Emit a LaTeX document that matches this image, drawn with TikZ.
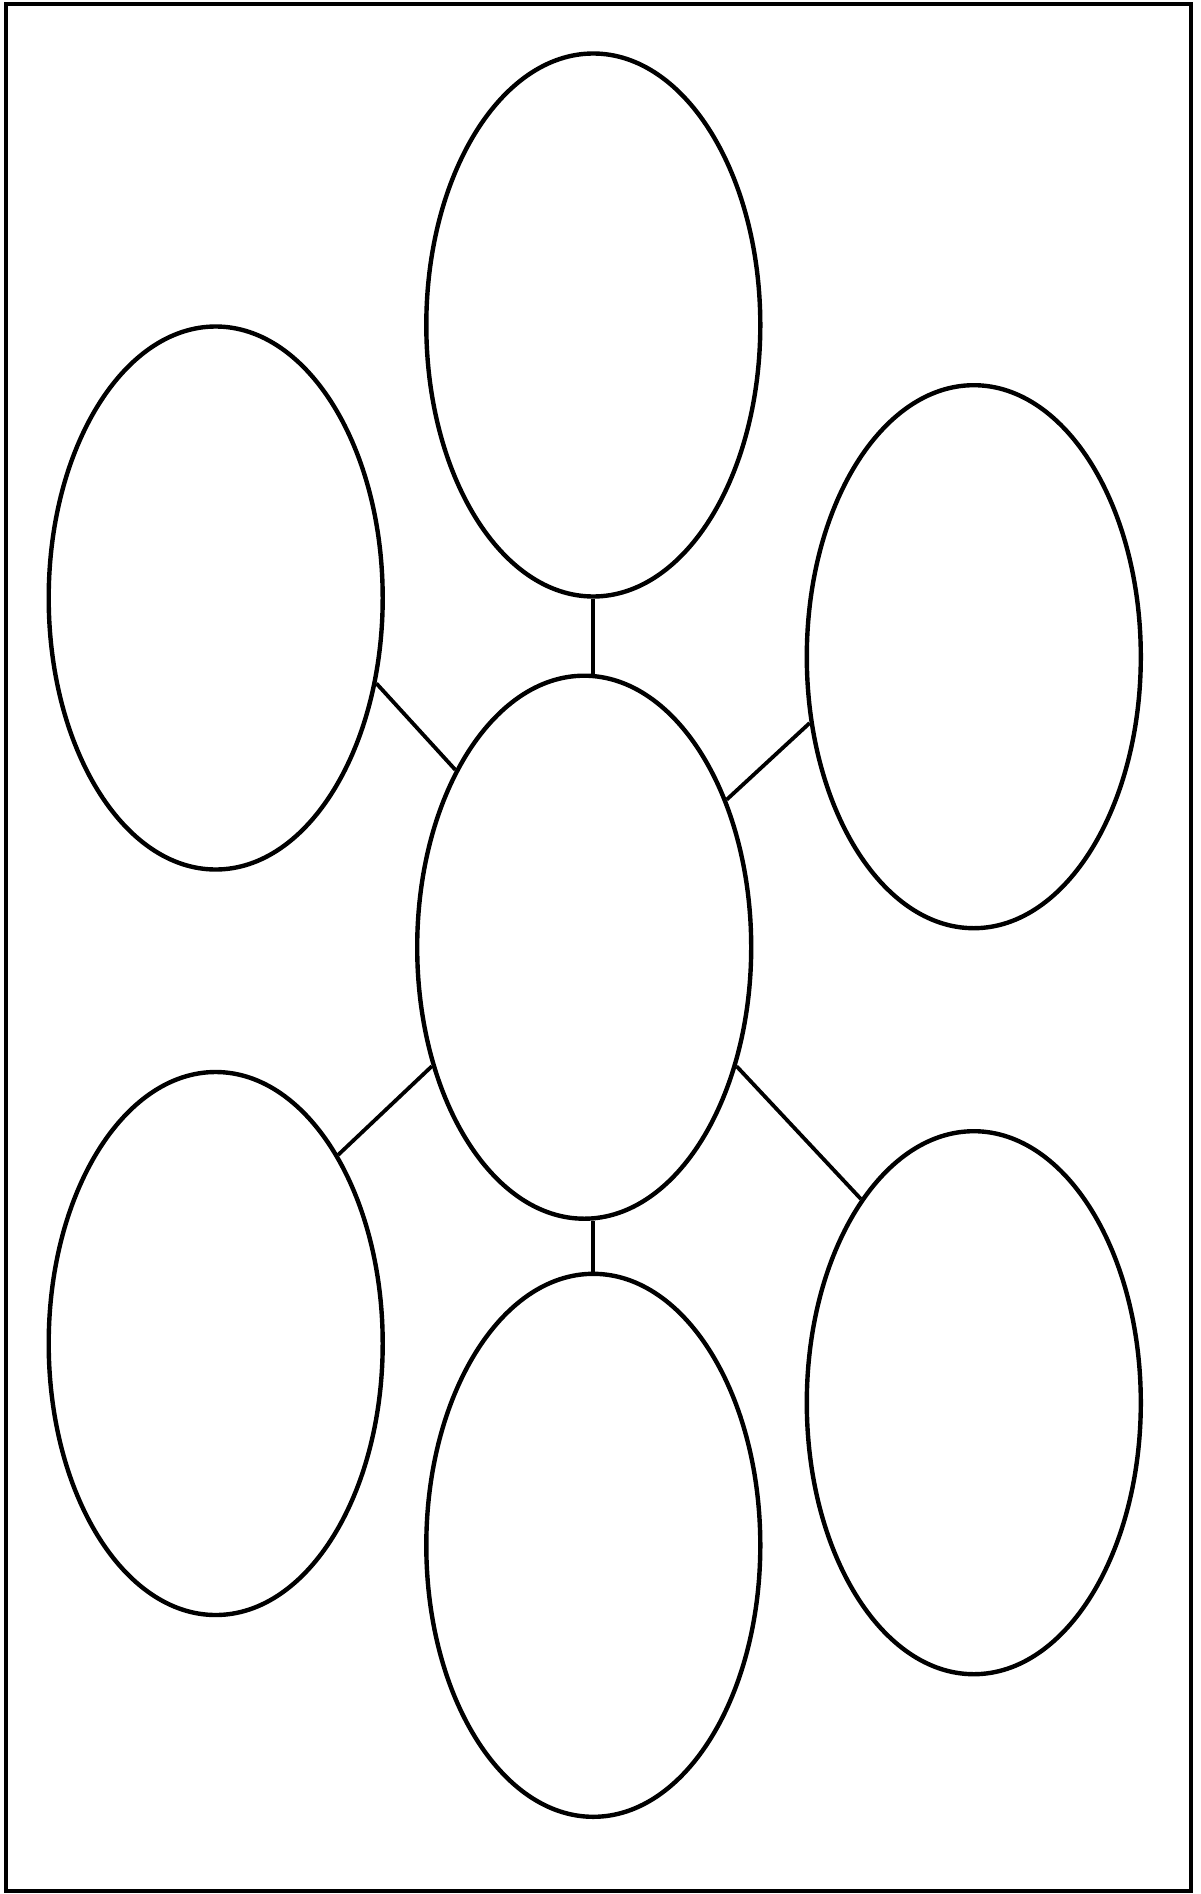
\documentclass[tikz,border=0pt]{standalone}
\usetikzlibrary{shapes.geometric}
\begin{document}
\begin{tikzpicture}[x=1pt,y=-1pt,
  bubble/.style={draw=black, ellipse, line width=4.4pt, minimum width=334pt, minimum height=543pt, inner sep=0pt},
  link/.style={draw=black, line width=3.8pt}]
\useasboundingbox (0,0) rectangle (1201,1894);
\draw[line width=4.6pt] (6,4) rectangle (1191,1891);
\node[bubble] (top) at (593.3,325) {};
\node[bubble] (c)   at (584.2,947.2) {};
\node[bubble] (ul)  at (215.7,598) {};
\node[bubble] (ur)  at (973.8,656.7) {};
\node[bubble] (ll)  at (215.7,1343.5) {};
\node[bubble] (bot) at (593.3,1545.3) {};
\node[bubble] (lr)  at (973.8,1402.7) {};
\draw[link] (top.south) -- (top.south |- c.north);
\draw[link] (c.south -| bot.north) -- (bot.north);
\draw[link] (ul.-28.4) -- (c.126);
\draw[link] (ur.-158.8) -- (c.46.9);
\draw[link] (ll.57.1) -- (c.-142);
\draw[link] (lr.119.4) -- (c.-38.3);
\end{tikzpicture}
\end{document}
